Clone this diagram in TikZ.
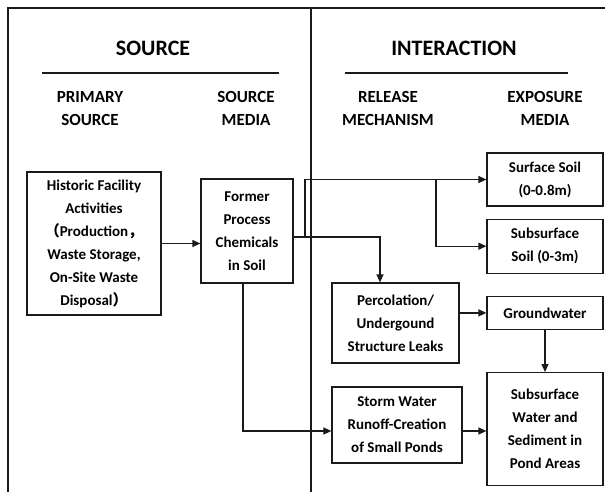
\documentclass[tikz,border=0pt]{standalone}
\usepackage{fontspec}
\setmainfont{Carlito}
\newfontfamily\cjk{Noto Sans CJK SC}
\usepackage{tikz}
\usetikzlibrary{
  arrows.meta,
  positioning,
  calc
}
\definecolor{csmLine}{HTML}{1A1A1A}
\tikzset{
  csmbox/.style={
    draw=csmLine, line width=1.2pt, align=center, inner sep=2pt,
    font=\fontsize{15}{23}\selectfont\bfseries
  },
  colhead/.style={align=center, font=\fontsize{17}{23}\selectfont\bfseries},
  parthead/.style={font=\fontsize{22}{24}\selectfont\bfseries},
  flow/.style={-{Triangle[length=8pt, width=7pt]}, line width=1.3pt, csmLine},
  link/.style={line width=1.3pt, csmLine},
  frameline/.style={line width=2pt, csmLine},
  headrule/.style={line width=1.5pt, csmLine}
}

\begin{document}
\begin{tikzpicture}[x=1pt, y=-1pt]
  \useasboundingbox (0,0) rectangle (605,492);
  % frame
  \draw[frameline] (605,8) -- (8,8) -- (8,492);
  \draw[frameline, line width=1.6pt] (311,8) -- (311,492);

  % headings
  \node[parthead] (src) at (153,48) {SOURCE};
  \node[parthead] (inter) at (454,48) {INTERACTION};
  \draw[headrule] (42,73) -- (279,73);
  \draw[headrule] (345,73) -- (568,73);
  \node[colhead] (prim) at (90,108.5) {PRIMARY\\SOURCE};
  \node[colhead] (smed) at (246,108.5) {SOURCE\\MEDIA};
  \node[colhead] (rel) at (388,108.5) {RELEASE\\MECHANISM};
  \node[colhead] (expo) at (545,108.5) {EXPOSURE\\MEDIA};

  % boxes
  \node[csmbox, minimum width=134pt, minimum height=143pt] (hist) at (94,243.5)
    {Historic Facility\\Activities\\{\cjk （}Production{\cjk ，}\\Waste Storage,\\On-Site Waste\\Disposal{\cjk ）}};
  \node[csmbox, minimum width=92pt, minimum height=104pt] (former) at (247,231)
    {Former\\Process\\Chemicals\\in Soil};
  \node[csmbox, minimum width=116pt, minimum height=53pt] (surf) at (545,179.5)
    {Surface Soil\\(0-0.8m)};
  \node[csmbox, minimum width=116pt, minimum height=54pt, below=12pt of surf] (subsoil)
    {Subsurface\\Soil (0-3m)};
  \node[csmbox, minimum width=116pt, minimum height=33pt, below=22pt of subsoil] (gw)
    {Groundwater};
  \node[csmbox, minimum width=116pt, minimum height=113pt, below=42pt of gw] (swater)
    {Subsurface\\Water and\\Sediment in\\Pond Areas};
  \node[csmbox, minimum width=127pt, minimum height=80pt] (perc) at (395.5,323)
    {Percolation/\\Undergound\\Structure Leaks};
  \node[csmbox, minimum width=130pt, minimum height=76pt] (storm) at (397,425)
    {Storm Water\\Runoff-Creation\\of Small Ponds};

  % connectors
  \coordinate (jn) at (305,237);
  \coordinate (drop) at (380,237);
  \coordinate (tap) at (436,0);
  \coordinate (low) at (243,431);
  \draw[flow] (hist.east) -- (hist.east -| former.west);
  \draw[flow] (jn -| former.east) -- (jn) |- (surf.west);
  \draw[flow] (jn) -- (drop) -- (drop |- perc.north);
  \draw[flow] (tap |- surf.west) |- (subsoil.west);
  \draw[flow] (perc.east |- gw.west) -- (gw.west);
  \draw[flow] (gw.south) -- (swater.north);
  \draw[flow] (low |- former.south) -- (low) -- (low -| storm.west);
  \draw[flow] (storm.east |- low) -- (swater.west |- low);
\end{tikzpicture}
\end{document}
